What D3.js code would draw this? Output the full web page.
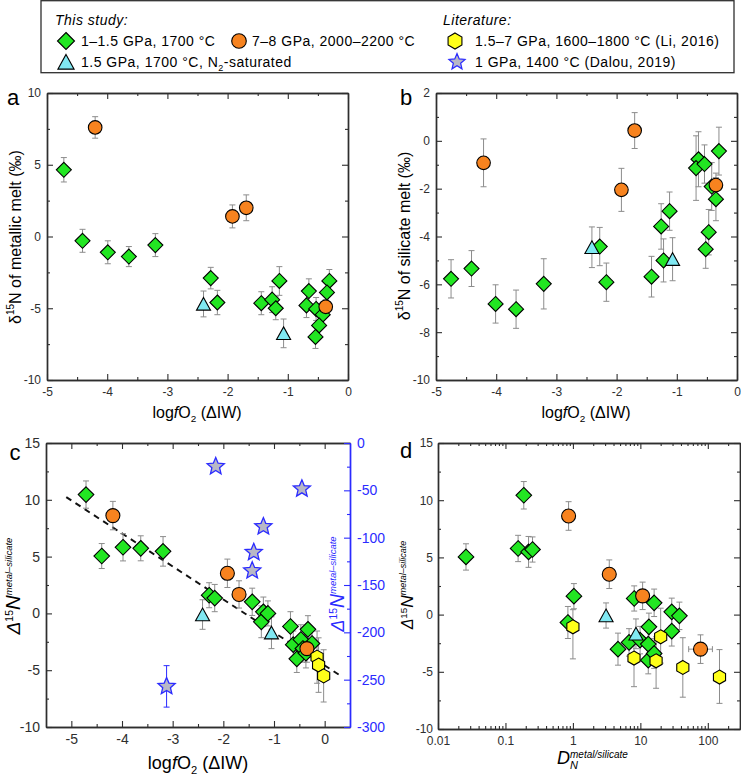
<!DOCTYPE html>
<html><head><meta charset="utf-8">
<script src="https://cdn.jsdelivr.net/npm/d3@7"></script>
<style>
body{margin:0;background:#fff;}
svg{display:block;font-family:"Liberation Sans",Arial,Helvetica,sans-serif;}
</style></head><body>
<svg id="chart" width="741" height="775"></svg>
<script>
// ---------------- DATA ----------------
// [x, y, error(up), error(down, optional)]
// Panel a: δ15N of metallic melt vs logfO2 (ΔIW)
const aGreen = [[-4.72,4.65,0.85],[-4.41,-0.3,0.8],[-3.99,-1.1,0.8],[-3.64,-1.4,0.7],[-3.20,-0.6,0.8],
  [-2.28,-2.9,0.75],[-2.17,-4.6,0.85],[-1.44,-4.65,0.8],[-1.26,-4.4,0.9],[-1.20,-5.0,0.8],[-1.14,-3.1,1.0],
  [-0.65,-3.8,0.85],[-0.69,-4.8,0.85],[-0.53,-5.05,0.8],[-0.42,-5.45,0.8],[-0.48,-6.2,0.8],[-0.54,-7.0,0.8],
  [-0.31,-3.1,0.8],[-0.35,-3.9,0.8]];
const aOrange = [[-4.20,7.6,0.75],[-1.92,1.4,0.8],[-1.69,2.0,0.9],[-0.37,-4.9,0.5]];
const aCyan = [[-2.40,-4.7,0.9],[-1.07,-6.75,1.0]];

// Panel b: δ15N of silicate melt vs logfO2 (ΔIW)
const bGreen = [[-4.75,-5.77,0.8],[-4.41,-5.34,0.75],[-4.01,-6.82,0.8],[-3.67,-7.04,0.8],[-3.21,-5.98,1.05],
  [-2.28,-4.42,0.8],[-2.17,-5.91,0.8],[-1.42,-5.68,0.85],[-1.26,-3.58,0.95],[-1.22,-5.0,0.9],[-1.12,-2.94,0.8],
  [-0.64,-0.77,1.15],[-0.68,-1.14,1.35],[-0.54,-0.97,0.8],[-0.42,-1.91,1.0],[-0.47,-3.82,0.95],[-0.52,-4.53,0.8],
  [-0.35,-2.44,0.9],[-0.30,-0.43,1.0]];
const bOrange = [[-4.21,-0.92,1.0],[-1.92,-2.05,0.9],[-1.70,0.43,0.75],[-0.35,-1.85,0.5]];
const bCyan = [[-2.41,-4.45,0.85],[-1.07,-4.95,0.9]];

// Panel c: Δ15N metal–silicate vs logfO2 (ΔIW)
const cGreen = [[-4.71,10.46,1.2],[-4.40,5.05,1.1],[-3.98,5.82,1.2],[-3.63,5.73,1.1],[-3.19,5.46,1.3],
  [-2.28,1.6,1.1],[-2.17,1.35,1.2],[-1.43,1.02,1.2],[-1.21,0.14,1.3],[-1.25,-0.74,1.4],[-1.12,0.0,1.1],
  [-0.675,-1.15,1.3],[-0.33,-1.40,1.2],[-0.62,-2.75,1.2],[-0.47,-2.3,1.3],[-0.43,-3.09,1.2],[-0.55,-4.0,1.2],
  [-0.37,-3.5,1.3],[-0.25,-2.65,1.2]];
const cOrange = [[-4.18,8.61,1.25],[-1.92,3.53,1.25],[-1.69,1.67,1.2],[-0.35,-3.1,1.2]];
const cCyan = [[-2.41,-0.1,1.3],[-1.05,-1.7,1.4]];
const cYellow = [[-0.15,-3.85,2.3],[-0.12,-4.55,2.4],[-0.02,-5.5,2.3]];
const cStars = [[-2.15,-24.8,0],[-0.45,-48.4,0],[-1.21,-88.3,0],[-1.40,-115.5,0],[-1.43,-134.9,0],[-3.12,-257.1,21.9]]; // right axis
const cFit = [[-5.1,10.23],[0.3,-5.45]];

// Panel d: Δ15N metal–silicate vs D_N metal/silicate
const dGreen = [[0.026,5.04,1.15],[0.187,10.43,1.2],[0.154,5.78,1.15],[0.22,5.48,1.35],[0.252,5.69,1.1],
  [1.035,1.61,1.1],[0.843,-0.69,1.4],[8.1,1.41,1.1],[16.0,1.03,1.2],[29.2,0.24,1.2],[37.9,-0.11,1.2],
  [13.4,-1.07,1.2],[29.2,-1.45,1.3],[4.66,-3.02,1.4],[6.8,-2.43,1.2],[9.9,-2.23,1.2],[13.1,-2.58,1.2],
  [13.1,-3.98,1.2],[16.0,-3.4,1.3]];
const dOrange = [[0.863,8.62,1.25],[3.46,3.53,1.25],[10.8,1.64,1.2],[78,-3.02,1.25]];
const dOrangeXErr = [null,null,null,[52,117]];
const dCyan = [[3.1,-0.08,1.1],[8.6,-1.68,1.3]];
const dYellow = [[1.0,-1.07,1.5,2.8],[8.05,-3.8,1.3,2.5],[17.1,-4.04,2.1,2.4],[20.0,-1.94,2.5,2.3],[42.6,-4.62,2.6,2.6],[149,-5.46,2.4,2.3]];

// Tick values
const xTicksLogfO2 = [-5,-4,-3,-2,-1,0];
const yTicksA = [-10,-5,0,5,10];
const yTicksB = [-10,-8,-6,-4,-2,0,2];
const yTicksCD = [-10,-5,0,5,10,15];
const yTicksCRight = [0,-50,-100,-150,-200,-250,-300];
const xTicksD = [0.01,0.1,1,10,100];

// Legend entries
const legendThisStudy = ["1–1.5 GPa, 1700 °C","7–8 GPa, 2000–2200 °C","1.5 GPa, 1700 °C, N"];
const legendLiterature = ["1.5–7 GPa, 1600–1800 °C (Li, 2016)","1 GPa, 1400 °C (Dalou, 2019)"];

// ---------------- STYLE ----------------
const GREEN="#22e622", ORANGE="#f7831f", CYAN="#80e8f2", YELLOW="#ffff1a",
      STARFILL="#b8b8c6", BLUE="#2b2bff", FRAME="#2e2e2e", ERR="#8c8c8c";

const svg = d3.select("#chart");

// ---------------- helpers ----------------
const shapes = {
  diamond: r => `M0,${-r}L${r},0L0,${r}L${-r},0Z`,
  circle: r => `M${r},0A${r},${r} 0 1 1 ${-r},0A${r},${r} 0 1 1 ${r},0Z`,
  triangle: r => `M0,${-r}L${r*1.08},${r*0.95}L${-r*1.08},${r*0.95}Z`,
  hexagon: r => "M" + d3.range(6).map(k=>{const a=Math.PI/180*(60*k-90);return [r*Math.cos(a),r*Math.sin(a)].join(",");}).join("L") + "Z",
  star: r => "M" + d3.range(10).map(k=>{const rr=k%2?r*0.45:r;const a=Math.PI/180*(36*k-90);return [rr*Math.cos(a),rr*Math.sin(a)].join(",");}).join("L") + "Z"
};
function marker(g, shape, r, fill, stroke, sw, cx, cy){
  g.append("path").attr("d", shapes[shape](r)).attr("transform",`translate(${cx},${cy})`)
   .attr("fill",fill).attr("stroke",stroke).attr("stroke-width",sw).attr("stroke-linejoin","miter");
}
function errBars(g, data, xs, ys, color, cap){
  data.forEach(d=>{
    const [xv,yv,eu,ed0]=d; const ed = ed0===undefined?eu:ed0;
    if(!eu) return;
    const px=xs(xv), y1=ys(yv+eu), y2=ys(yv-ed);
    g.append("line").attr("x1",px).attr("x2",px).attr("y1",y1).attr("y2",y2).attr("stroke",color).attr("stroke-width",1);
    [y1,y2].forEach(yy=>g.append("line").attr("x1",px-cap).attr("x2",px+cap).attr("y1",yy).attr("y2",yy).attr("stroke",color).attr("stroke-width",1));
  });
}
function series(g, data, xs, ys, shape, r, fill, stroke){
  data.forEach(d=>marker(g, shape, r, fill, stroke||"#000", 1.1, xs(d[0]), ys(d[1])));
}
function styleAxis(sel, color, fs){
  sel.select(".domain").attr("stroke",color).attr("stroke-width",1.4);
  sel.selectAll(".tick line").attr("stroke",color).attr("stroke-width",1.1);
  sel.selectAll(".tick text").attr("fill",color).style("font-size",fs+"px").style("font-family",'"Liberation Sans",Arial,sans-serif');
}
function frame(g, xs, ys, o){
  const [x0,x1]=xs.range(), [yb,yt]=ys.range();
  const fmt = o.xfmt || (d=>String(d));
  const add=(axis,tx,ty,color,fs)=>{const s=g.append("g").attr("transform",`translate(${tx},${ty})`).call(axis);styleAxis(s,color||FRAME,fs||o.fs);return s;};
  add(d3.axisBottom(xs).tickValues(o.xMinor).tickSize(-3).tickSizeOuter(0).tickFormat(""),0,yb);
  add(d3.axisBottom(xs).tickValues(o.xMajor).tickSize(-6).tickSizeOuter(0).tickPadding(7).tickFormat(fmt),0,yb);
  add(d3.axisTop(xs).tickValues(o.xMinor).tickSize(-3).tickSizeOuter(0).tickFormat(""),0,yt);
  add(d3.axisTop(xs).tickValues(o.xMajor).tickSize(-6).tickSizeOuter(0).tickFormat(""),0,yt);
  add(d3.axisLeft(ys).tickValues(o.yMinor).tickSize(-3).tickSizeOuter(0).tickFormat(""),x0,0);
  add(d3.axisLeft(ys).tickValues(o.yMajor).tickSize(-6).tickSizeOuter(0).tickPadding(o.yPad||6).tickFormat(d=>String(d)),x0,0);
  if(o.yR){
    add(d3.axisRight(o.yR).tickValues(o.yRMinor).tickSize(-3).tickSizeOuter(0).tickFormat(""),x1,0,BLUE);
    add(d3.axisRight(o.yR).tickValues(o.yRMajor).tickSize(-6).tickSizeOuter(0).tickPadding(7).tickFormat(d=>String(d)),x1,0,BLUE,o.fs);
  } else {
    add(d3.axisRight(ys).tickValues(o.yMinor).tickSize(-3).tickSizeOuter(0).tickFormat(""),x1,0);
    add(d3.axisRight(ys).tickValues(o.yMajor).tickSize(-6).tickSizeOuter(0).tickFormat(""),x1,0);
  }
}
function rich(g, x, y, parts, o){
  o=o||{};
  const t=g.append("text").attr("text-anchor",o.anchor||"middle").attr("fill",o.color||"#000")
    .attr("transform",`translate(${x},${y})`+(o.rot?` rotate(${o.rot})`:""));
  parts.forEach(p=>{
    const s=t.append("tspan").text(p.t).style("font-size",p.size+"px");
    if(p.italic) s.style("font-style","italic");
    if(p.dy) s.attr("dy",p.dy);
  });
  return t;
}
function logfo2Label(g, x, y, fs){
  rich(g,x,y,[{t:"log",size:fs},{t:"f",size:fs,italic:true},{t:"O",size:fs},{t:"2",size:fs*0.62,dy:fs*0.28},{t:" (ΔIW)",size:fs,dy:-fs*0.28}]);
}
function deltaLabel(g, x, y, big, small, color){
  rich(g,x,y,[{t:"Δ",size:big,italic:true},{t:"15",size:small*1.1,dy:-big*0.38},{t:"N",size:big*1.08,italic:true,dy:big*0.38},{t:"metal–silicate",size:small,italic:true,dy:-big*0.42}],{rot:-90,color:color});
}

// ---------------- Legend ----------------
const L = svg.append("g").style("font-size","14px").style("letter-spacing","0.5px");
L.append("rect").attr("x",41).attr("y",0.7).attr("width",693).attr("height",72).attr("fill","none").attr("stroke",FRAME).attr("stroke-width",1.3);
L.append("text").attr("x",55).attr("y",25).style("font-style","italic").text("This study:");
L.append("text").attr("x",443).attr("y",25).style("font-style","italic").text("Literature:");
marker(L,"diamond",8.5,GREEN,"#000",1.1,66,41);
L.append("text").attr("x",81).attr("y",46).text(legendThisStudy[0]);
marker(L,"circle",7.3,ORANGE,"#000",1.1,239,41);
L.append("text").attr("x",252).attr("y",46).text(legendThisStudy[1]);
marker(L,"triangle",7.5,CYAN,"#000",1.1,66,62);
const t3=L.append("text").attr("x",81).attr("y",67);
t3.append("tspan").text(legendThisStudy[2]);
t3.append("tspan").text("2").style("font-size","9px").attr("dy",4);
t3.append("tspan").text("-saturated").attr("dy",-4);
marker(L,"hexagon",8,YELLOW,"#000",1.1,455,41);
L.append("text").attr("x",475).attr("y",46).text(legendLiterature[0]);
marker(L,"star",8.5,STARFILL,BLUE,1.2,457,62);
L.append("text").attr("x",475).attr("y",67).text(legendLiterature[1]);

// ---------------- Panel a ----------------
{
  const g=svg.append("g");
  const x=d3.scaleLinear().domain([-5,0]).range([47,348]);
  const y=d3.scaleLinear().domain([-10,10]).range([380,93]);
  frame(g,x,y,{xMajor:xTicksLogfO2,xMinor:[-4.5,-3.5,-2.5,-1.5,-0.5],yMajor:yTicksA,yMinor:[-7.5,-2.5,2.5,7.5],fs:12});
  errBars(g,aGreen,x,y,ERR,3); errBars(g,aOrange,x,y,ERR,3); errBars(g,aCyan,x,y,ERR,3);
  series(g,aGreen,x,y,"diamond",7.5,GREEN);
  series(g,aCyan,x,y,"triangle",6.5,CYAN);
  series(g,aOrange,x,y,"circle",6.8,ORANGE);
  g.append("text").attr("x",13).attr("y",105).style("font-size","22px").attr("text-anchor","middle").text("a");
  rich(g,21,237,[{t:"δ",size:16},{t:"15",size:10,dy:-7},{t:"N of metallic melt (‰)",size:16,dy:7}],{rot:-90});
  logfo2Label(g,197,418,16);
}
// ---------------- Panel b ----------------
{
  const g=svg.append("g");
  const x=d3.scaleLinear().domain([-5,0]).range([436,737]);
  const y=d3.scaleLinear().domain([-10,2]).range([380,93]);
  frame(g,x,y,{xMajor:xTicksLogfO2,xMinor:[-4.5,-3.5,-2.5,-1.5,-0.5],yMajor:yTicksB,yMinor:[-9,-7,-5,-3,-1,1],fs:12});
  errBars(g,bGreen,x,y,ERR,3); errBars(g,bOrange,x,y,ERR,3); errBars(g,bCyan,x,y,ERR,3);
  series(g,bGreen,x,y,"diamond",7.5,GREEN);
  series(g,bCyan,x,y,"triangle",6.5,CYAN);
  series(g,bOrange,x,y,"circle",6.8,ORANGE);
  g.append("text").attr("x",406).attr("y",105).style("font-size","22px").attr("text-anchor","middle").text("b");
  rich(g,410,236,[{t:"δ",size:16},{t:"15",size:10,dy:-7},{t:"N of silicate melt (‰)",size:16,dy:7}],{rot:-90});
  logfo2Label(g,586,418,16);
}
// ---------------- Panel c ----------------
{
  const g=svg.append("g");
  const x=d3.scaleLinear().domain([-5.5,0.5]).range([46,350]);
  const y=d3.scaleLinear().domain([-10,15]).range([727,443]);
  const yR=d3.scaleLinear().domain([-300,0]).range([727,443]);
  frame(g,x,y,{xMajor:xTicksLogfO2,xMinor:[-4.5,-3.5,-2.5,-1.5,-0.5],yMajor:yTicksCD,yMinor:[-7.5,-2.5,2.5,7.5,12.5],
    yR:yR,yRMajor:yTicksCRight,yRMinor:[-25,-75,-125,-175,-225,-275],fs:14,yPad:6});
  g.append("path").datum(cFit).attr("d",d3.line().x(d=>x(d[0])).y(d=>y(d[1])))
    .attr("stroke","#111").attr("stroke-width",2).attr("stroke-dasharray","6,5").attr("fill","none");
  errBars(g,cGreen,x,y,ERR,3); errBars(g,cOrange,x,y,ERR,3); errBars(g,cCyan,x,y,ERR,3); errBars(g,cYellow,x,y,ERR,3);
  errBars(g,cStars,x,yR,BLUE,3);
  series(g,cGreen,x,y,"diamond",7.8,GREEN);
  series(g,cCyan,x,y,"triangle",6.5,CYAN);
  series(g,cOrange,x,y,"circle",7,ORANGE);
  series(g,cYellow,x,y,"hexagon",7,YELLOW);
  cStars.forEach(d=>marker(g,"star",9,STARFILL,BLUE,1.3,x(d[0]),yR(d[1])));
  g.append("text").attr("x",15).attr("y",460).style("font-size","22px").attr("text-anchor","middle").text("c");
  deltaLabel(g,20,586,19,9.5);
  deltaLabel(g,344,584,18,9.5,BLUE);
  logfo2Label(g,198,769,18);
}
// ---------------- Panel d ----------------
{
  const g=svg.append("g");
  const x=d3.scaleLog().domain([0.01,300]).range([438,740]);
  const y=d3.scaleLinear().domain([-10,15]).range([729,443]);
  const minor=[];
  [0.01,0.1,1,10,100].forEach(b=>d3.range(2,10).forEach(k=>{const v=b*k; if(v<=300) minor.push(v);}));
  frame(g,x,y,{xMajor:xTicksD,xMinor:minor,yMajor:yTicksCD,yMinor:[-7.5,-2.5,2.5,7.5,12.5],fs:12,yPad:5,
    xfmt:d=>String(d)});
  errBars(g,dGreen,x,y,ERR,3); errBars(g,dOrange,x,y,ERR,3); errBars(g,dCyan,x,y,ERR,3); errBars(g,dYellow,x,y,ERR,3);
  dOrange.forEach((d,i)=>{const e=dOrangeXErr[i]; if(!e) return;
    const yy=y(d[1]);
    g.append("line").attr("x1",x(e[0])).attr("x2",x(e[1])).attr("y1",yy).attr("y2",yy).attr("stroke",ERR);
    e.forEach(v=>g.append("line").attr("x1",x(v)).attr("x2",x(v)).attr("y1",yy-3).attr("y2",yy+3).attr("stroke",ERR));
  });
  series(g,dGreen,x,y,"diamond",7.8,GREEN);
  series(g,dCyan,x,y,"triangle",6.5,CYAN);
  series(g,dOrange,x,y,"circle",7,ORANGE);
  series(g,dYellow,x,y,"hexagon",7,YELLOW);
  g.append("text").attr("x",406).attr("y",458).style("font-size","22px").attr("text-anchor","middle").text("d");
  deltaLabel(g,413,585,16,9);
  g.append("text").attr("x",557).attr("y",764).style("font-size","18px").style("font-style","italic").text("D");
  g.append("text").attr("x",570).attr("y",769).style("font-size","11px").style("font-style","italic").text("N");
  g.append("text").attr("x",570).attr("y",758).style("font-size","10px").style("font-style","italic").text("metal/silicate");
}
</script>
</body></html>
